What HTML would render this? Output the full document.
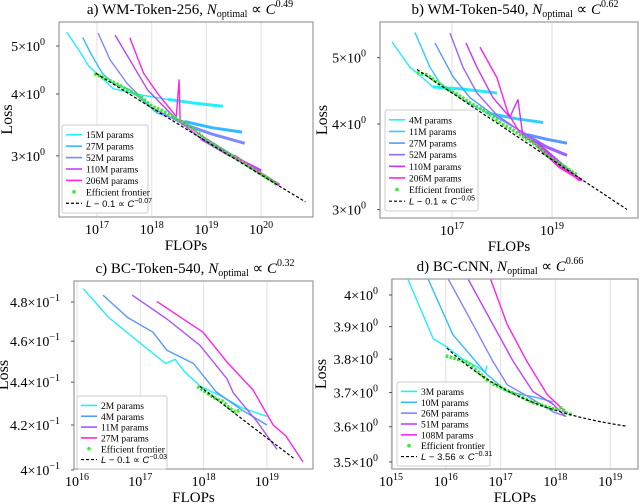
<!DOCTYPE html>
<html><head><meta charset="utf-8">
<style>
html,body{margin:0;padding:0;background:#fff;}
svg{display:block;font-family:"Liberation Serif",serif;}
</style></head>
<body>
<svg id="chart" width="640" height="504" viewBox="0 0 640 504" xmlns="http://www.w3.org/2000/svg"></svg>
<script>
// ---------- DATA ----------
// Panel a: WM-Token-256
const aNames = ["15M params","27M params","52M params","110M params","206M params"];
const a15 = [[16.45,5.33],[16.7,4.85],[16.85,4.55],[17.0,4.4],[17.3,4.1],[17.7,4.0],[18.3,3.9],[18.8,3.83],[19.3,3.78]];
const a27 = [[16.74,5.2],[16.9,4.8],[17.1,4.4],[17.3,4.2],[17.6,4.08],[18.1,3.66],[18.6,3.52],[19.1,3.42],[19.65,3.35]];
const a52 = [[17.02,5.31],[17.24,4.69],[17.55,4.2],[17.98,3.77],[18.54,3.49],[19.1,3.32],[19.7,3.18]];
const a110 = [[17.33,5.26],[17.67,4.55],[17.93,4.07],[18.4,3.6],[18.9,3.25],[19.4,3.02],[20.0,2.8]];
const a206 = [[17.6,5.2],[17.85,4.41],[18.1,4.02],[18.45,3.6],[18.5,4.27],[18.52,3.55],[18.9,3.3],[19.5,3.0],[20.0,2.76],[20.33,2.62]];
const aFront = [[16.95,4.4],[17.15,4.3],[17.35,4.2],[17.55,4.08],[17.8,3.95],[18.0,3.78],[18.2,3.7],[18.5,3.55],[18.8,3.38],[19.0,3.22],[19.3,3.08],[19.6,2.94],[19.9,2.8],[20.2,2.67],[20.3,2.62]];
const aFit = [0.1, 4.29, 0.07, 17, 16.98, 20.81]; // offset, amp, exponent, ref, start, end
const aXTicks = [17,18,19,20];
const aYTicks = [3,4,5];

// Panel b: WM-Token-540
const bNames = ["4M params","11M params","27M params","52M params","110M params","206M params"];
const b4 = [[15.8,5.27],[16.16,4.84],[16.3,4.75],[16.62,4.53],[17.2,4.5],[17.9,4.44]];
const b11 = [[16.26,5.44],[16.56,4.84],[16.76,4.59],[17.22,4.34],[17.7,4.15],[18.3,4.07],[18.82,4.02]];
const b27 = [[16.66,5.25],[17.02,4.69],[17.36,4.37],[17.9,4.09],[18.5,3.86],[18.9,3.8],[19.3,3.75]];
const b52 = [[16.96,5.43],[17.22,4.84],[17.5,4.44],[17.9,4.12],[18.42,3.88],[18.9,3.7],[19.3,3.6]];
const b110 = [[17.28,5.25],[17.5,4.84],[17.82,4.37],[18.16,4.09],[18.22,4.19],[18.32,4.34],[18.42,3.83],[18.7,3.75],[19.02,3.58],[19.56,3.31]];
const b206 = [[17.56,5.18],[17.9,4.67],[18.12,4.15],[18.36,3.88],[18.7,3.72],[19.16,3.46],[19.6,3.31]];
const bFront = [[16.3,4.75],[16.5,4.72],[16.7,4.6],[16.9,4.5],[17.1,4.42],[17.4,4.28],[17.7,4.16],[18.0,4.0],[18.2,3.93],[18.5,3.8],[18.7,3.72],[18.9,3.6],[19.1,3.52],[19.3,3.45],[19.5,3.37]];
const bFit = [0.1, 4.34, 0.05, 17, 16.3, 20.5];
const bXTicks = [17,19];
const bYTicks = [3,4,5];

// Panel c: BC-Token-540
const cNames = ["2M params","4M params","11M params","27M params"];
const c2 = [[16.1,0.487],[16.5,0.472],[17.0,0.459],[17.4,0.449],[17.55,0.451],[17.7,0.445],[17.95,0.438],[18.3,0.433],[18.6,0.428],[19.0,0.424]];
const c4 = [[16.41,0.4836],[16.8,0.472],[17.2,0.4645],[17.42,0.4555],[17.84,0.449],[18.2,0.4353],[18.6,0.427],[19.0,0.42]];
const c11 = [[16.87,0.4836],[17.42,0.4712],[17.94,0.458],[18.37,0.4416],[18.47,0.4348],[18.84,0.4217],[19.16,0.409]];
const c27 = [[17.26,0.4803],[17.99,0.4645],[18.37,0.4497],[18.78,0.4363],[19.1,0.42],[19.3,0.415],[19.57,0.4035]];
const cFront = [[17.9,0.438],[18.0,0.436],[18.1,0.434],[18.2,0.432],[18.3,0.431],[18.4,0.428],[18.5,0.426],[18.6,0.427]];
const cFit = [0.1, 0.3366, 0.03, 18, 17.94, 19.44];
const cXTicks = [16,17,18,19];
const cYTicks = [0.40,0.42,0.44,0.46,0.48];

// Panel d: BC-CNN
const dNames = ["3M params","10M params","26M params","51M params","108M params"];
const d3 = [[15.31,4.05],[15.77,3.863],[16.02,3.837],[16.31,3.80],[16.57,3.777],[16.72,3.76],[16.75,3.78]];
const d10 = [[15.68,4.05],[16.13,3.875],[16.75,3.754],[17.12,3.703],[17.66,3.685],[17.96,3.672]];
const d26 = [[16.05,4.05],[16.44,3.925],[16.86,3.793],[17.12,3.723],[17.48,3.69],[17.96,3.643],[18.2,3.63]];
const d51 = [[16.41,4.05],[16.86,3.907],[17.23,3.793],[17.59,3.703],[17.96,3.665],[18.18,3.63]];
const d108 = [[16.82,4.05],[17.12,3.907],[17.48,3.793],[17.85,3.694],[18.2,3.64]];
const dFront = [[16.0,3.81],[16.2,3.8],[16.4,3.79],[16.6,3.76],[16.8,3.73],[17.0,3.715],[17.2,3.7],[17.4,3.685],[17.6,3.67],[17.8,3.66],[18.0,3.65],[18.1,3.655],[18.2,3.64],[18.3,3.635]];
const dFit = [3.56, 0.277, 0.25, 16, 16.02, 19.31];
const dXTicks = [15,16,17,18,19];
const dYTicks = [3.5,3.6,3.7,3.8,3.9,4.0];

// ---------- RENDER ----------
const NS = "http://www.w3.org/2000/svg";
const svg = document.getElementById('chart');
function mk(tag, attrs, parent){ const e=document.createElementNS(NS,tag); for(const k in attrs) e.setAttribute(k,attrs[k]); (parent||svg).appendChild(e); return e; }

const panels = [
 {id:'a', L:59,R:313,T:22,B:217, x0:17,x0p:97,xpd:54.7, y0:4,y0p:94,ypd:495, thick:true,
  series:[a15,a27,a52,a110,a206], names:aNames, colors:['#22eeff','#33bbff','#7f88ff','#bb44ff','#ff22ee'],
  front:aFront, fit:aFit, xt:aXTicks, yt:aYTicks, ylab:v=>[v+'×10','0'], yl:12, fitlab:'0.07',
  title:['a) WM-Token-256, ','0.49'], tx:190, leg:{x:62,y:125,w:86,h:88}},
 {id:'b', L:380,R:638,T:22,B:218, x0:17,x0p:452,xpd:50, y0:4,y0p:124,ypd:685, thick:true,
  series:[b4,b11,b27,b52,b110,b206], names:bNames, colors:['#22eeff','#33ccff','#5599ff','#9966ff','#cc33ff','#ff22ee'],
  front:bFront, fit:bFit, xt:bXTicks, yt:bYTicks, ylab:v=>[v+'×10','0'], yl:327, fitlab:'0.05',
  title:['b) WM-Token-540, ','0.62'], tx:515, leg:{x:385,y:110,w:93,h:101}},
 {id:'c', L:74,R:313,T:281,B:469, x0:16,x0p:77,xpd:63.3, y0:0.48,y0p:302,ypd:2121, thick:false,
  series:[c2,c4,c11,c27], names:cNames, colors:['#22eeff','#5599ff','#aa55ff','#ff22ee'],
  front:cFront, fit:cFit, xt:cXTicks, yt:cYTicks, ylab:v=>[(v===0.4?'4':(v*10).toFixed(1))+'×10','−1'], yl:8, fitlab:'0.03',
  title:['c) BC-Token-540, ','0.32'], tx:195, leg:{x:77,y:396,w:90,h:73}},
 {id:'d', L:392,R:638,T:279,B:469, x0:15,x0p:391,xpd:54.8, y0:4,y0p:295,ypd:2879, thick:false,
  series:[d3,d10,d26,d51,d108], names:dNames, colors:['#22eeff','#33bbff','#7f88ff','#bb44ff','#ff22ee'],
  front:dFront, fit:dFit, xt:dXTicks, yt:dYTicks, ylab:v=>[(v===4?'4':v.toFixed(1))+'×10','0'], yl:326, fitlab:'0.31',
  title:['d) BC-CNN, ','0.66'], tx:500, leg:{x:397,y:382,w:93,h:84}},
];

panels.forEach(p=>{
  const X = e => p.x0p + (e - p.x0)*p.xpd;
  const Y = v => p.y0p - (Math.log10(v) - Math.log10(p.y0))*p.ypd;
  const g = mk('g',{});  
  const t = mk('text',{x:p.tx,y:p.T-8,'text-anchor':'middle','font-size':'15'},g);
   
  t.innerHTML = p.title[0]+'<tspan font-style="italic">N</tspan><tspan font-size="10" dy="3">optimal</tspan><tspan dy="-3"> ∝ </tspan><tspan font-style="italic">C</tspan><tspan font-size="10" dy="-7">'+p.title[1]+'</tspan>';
  const cp = mk('clipPath',{id:'clip'+p.id},g); mk('rect',{x:p.L,y:p.T,width:p.R-p.L,height:p.B-p.T},cp);
  p.xt.forEach(e=>{ const l=mk('line',{x1:X(e),x2:X(e),y1:p.T,y2:p.B,stroke:'#e2e2e2','stroke-width':1},g);
      });
  const plot = mk('g',{'clip-path':'url(#clip'+p.id+')'},g);
  p.series.forEach((s,i)=>{
    const pts = s.map(q=>X(q[0]).toFixed(1)+','+Y(q[1]).toFixed(1));
    const pl = mk('polyline',{points:pts.join(' '),fill:'none',stroke:p.colors[i],'stroke-width':1.4,'stroke-linejoin':'round'},plot);
    
    
    if(p.thick){
      const k = Math.max(0, s.length-3);
      const tl = mk('polyline',{points:pts.slice(k).join(' '),fill:'none',stroke:p.colors[i],'stroke-width':3,'stroke-linejoin':'round'},plot);
       
    }
  });
  const fp = mk('polyline',{points:p.front.map(q=>X(q[0]).toFixed(1)+','+Y(q[1]).toFixed(1)).join(' '),fill:'none',stroke:'#33ee33','stroke-width':3.5,'stroke-dasharray':'2.5,1.5'},plot);
   
  const f=p.fit, pts=[]; for(let k=0;k<=40;k++){ const e=f[4]+(f[5]-f[4])*k/40; pts.push(X(e).toFixed(1)+','+Y(f[0]+f[1]*Math.pow(10,-f[2]*(e-f[3]))).toFixed(1)); }
  const fl = mk('polyline',{points:pts.join(' '),fill:'none',stroke:'#000','stroke-width':1.2,'stroke-dasharray':'3,2'},plot);
   
  const fr = mk('rect',{x:p.L,y:p.T,width:p.R-p.L,height:p.B-p.T,fill:'none',stroke:'#999','stroke-width':1.2},g);
   
  p.xt.forEach(e=>{ const tx=mk('text',{x:X(e),y:p.B+17,'text-anchor':'middle','font-size':'14'},g);
     
    tx.innerHTML='10<tspan font-size="10" dy="-6">'+e+'</tspan>'; });
  p.yt.forEach(v=>{ const lab=p.ylab(v); const ty=mk('text',{x:p.L-14,y:Y(v)+5,'text-anchor':'end','font-size':'14'},g);
     
    ty.innerHTML=lab[0]+'<tspan font-size="10" dy="-6">'+lab[1]+'</tspan>';
    mk('line',{x1:p.L-3,x2:p.L,y1:Y(v),y2:Y(v),stroke:'#555'},g); });
  const xl=mk('text',{x:(p.L+p.R)/2,y:p.B+33,'text-anchor':'middle','font-size':'15'},g);
    xl.textContent='FLOPs';
  const yx = p.yl, ym=(p.T+p.B)/2;
  const yl=mk('text',{x:yx,y:ym,'text-anchor':'middle','font-size':'16',transform:'rotate(-90 '+yx+' '+ym+')'},g);
    yl.textContent='Loss';
  const lg=p.leg; const lgG=mk('g',{},g);  
  mk('rect',{x:lg.x,y:lg.y,width:lg.w,height:lg.h,fill:'#fff','fill-opacity':0.85,stroke:'#ccc',rx:2},lgG);
  const n=p.names.length+2, step=(lg.h-8)/n;
  for(let i=0;i<n;i++){
    const cy=lg.y+4+step*(i+0.5);
    const ent=mk('g',{},lgG);  
    if(i<p.names.length){ mk('line',{x1:lg.x+4,x2:lg.x+20,y1:cy,y2:cy,stroke:p.colors[i],'stroke-width':1.6},ent);
      const tt=mk('text',{x:lg.x+24,y:cy+3.5,'font-size':'9.5'},ent); tt.textContent=p.names[i]; }
    else if(i===p.names.length){ mk('circle',{cx:lg.x+12,cy:cy,r:1.8,fill:'#33ee33'},ent);
      const tt=mk('text',{x:lg.x+24,y:cy+3.5,'font-size':'9.5'},ent); tt.textContent='Efficient frontier'; }
    else { mk('line',{x1:lg.x+4,x2:lg.x+20,y1:cy,y2:cy,stroke:'#000','stroke-width':1.2,'stroke-dasharray':'3,2'},ent);
      const tt=mk('text',{x:lg.x+24,y:cy+3.5,'font-size':'9.5','font-family':'Liberation Sans, sans-serif'},ent);
      tt.innerHTML='<tspan font-style="italic">L</tspan> − '+(p.fit[0])+' ∝ <tspan font-style="italic">C</tspan><tspan font-size="7" dy="-4">−'+p.fitlab+'</tspan>'; }
  }
});
</script>
</body></html>
